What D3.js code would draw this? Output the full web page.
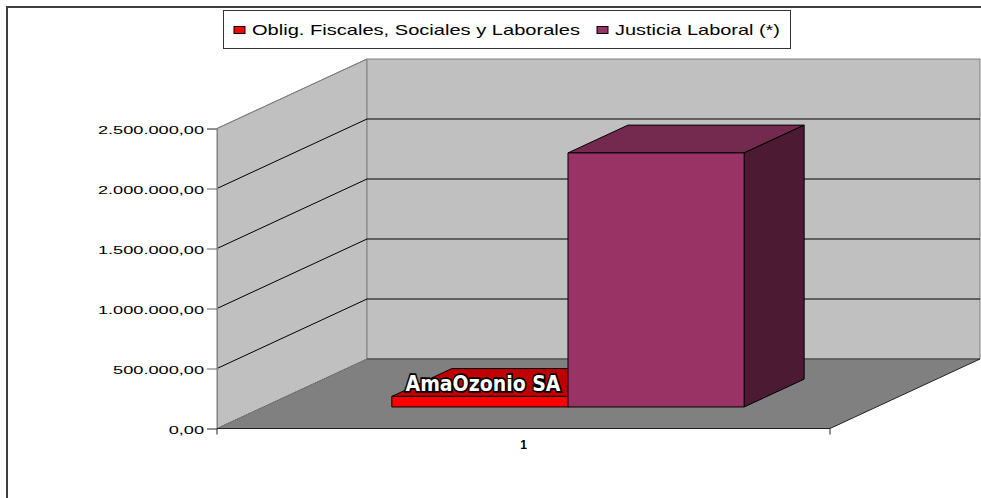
<!DOCTYPE html>
<html>
<head>
<meta charset="utf-8">
<script src="https://cdn.jsdelivr.net/npm/d3@7"></script>
<style>
	html, body { margin: 0; padding: 0; background: #fff; }
	svg { display: block; }
	text { font-family: "Liberation Sans", Arial, sans-serif; fill: #000; }
</style>
</head>
<body>
<svg id="chart" width="981" height="498"></svg>
<script>
var categories = ["1"];
var seriesNames = ["Oblig. Fiscales, Sociales y Laborales", "Justicia Laboral (*)"];
var seriesValues = [88000, 2117000];
var seriesColors = ["#ff0000", "#993366"];
var topColors = ["#c00000", "#74294f"];
var sideColors = ["#800000", "#4d1a33"];
var yTicks = [0, 500000, 1000000, 1500000, 2000000, 2500000];
var barLabel = "AmaOzonio SA";

var svg = d3.select("#chart");

// chart frame
svg.append("path")
	.attr("d", "M7,498V7H981")
	.attr("fill", "none")
	.attr("stroke", "#404040")
	.attr("stroke-width", 2);

var y = d3.scaleLinear().domain([0, 2500000]).range([428.5, 128.5]);
var x = d3.scaleBand().domain(categories).range([217, 830]);
var inner = d3.scaleBand().domain(d3.range(seriesValues.length))
	.range([x(categories[0]), x(categories[0]) + x.bandwidth()])
	.paddingOuter(0.74).paddingInner(0).align(0.4923);

// oblique projection, depth 0 is the front of the floor and 1 the back wall
var depthX = d3.scaleLinear().domain([0, 1]).range([0, 150]);
var depthY = d3.scaleLinear().domain([0, 1]).range([0, -69.5]);
var project = function(px, value, depth) {
	return [px + depthX(depth), y(value) + depthY(depth)];
};
var poly = function(points) {
	return "M" + points.join("L") + "Z";
};
var xMin = x.range()[0], xMax = x.range()[1], yMax = y.domain()[1];

// walls and floor
svg.append("path")
	.attr("d", poly([project(xMin, 0, 0), project(xMin, yMax, 0), project(xMin, yMax, 1), project(xMin, 0, 1)]))
	.attr("fill", "#c0c0c0").attr("stroke", "#808080");
svg.append("path")
	.attr("d", poly([project(xMin, 0, 1), project(xMin, yMax, 1), project(xMax, yMax, 1), project(xMax, 0, 1)]))
	.attr("fill", "#c0c0c0").attr("stroke", "#808080");
svg.append("path")
	.attr("d", poly([project(xMin, 0, 0), project(xMin, 0, 1), project(xMax, 0, 1), project(xMax, 0, 0)]))
	.attr("fill", "#808080").attr("stroke", "none");

// gridlines on both walls
var grid = svg.append("g").attr("fill", "none");
yTicks.forEach(function(tick) {
	if (tick > 0 && tick < yMax) {
		grid.append("path")
			.attr("d", "M" + [project(xMin, tick, 0), project(xMin, tick, 1), project(xMax, tick, 1)].join("L"))
			.attr("stroke", "#000").attr("stroke-width", 1);
	}
});
grid.append("path")
	.attr("d", "M" + [project(xMin, yMax, 0), project(xMin, yMax, 1)].join("L"))
	.attr("stroke", "#808080");
grid.append("path")
	.attr("d", "M" + [project(xMin, 0, 0), project(xMin, 0, 1)].join("L"))
	.attr("stroke", "#555").attr("stroke-dasharray", "1 1");
grid.append("path")
	.attr("d", "M" + [project(xMin, 0, 1), project(xMax, 0, 1)].join("L"))
	.attr("stroke", "#555").attr("stroke-width", 1.5);
grid.append("path")
	.attr("d", "M" + [project(xMax, 0, 0), project(xMax, 0, 1)].join("L"))
	.attr("stroke", "#222");

// axes
var yAxis = d3.axisLeft(y)
	.tickValues(yTicks)
	.tickSize(10)
	.tickPadding(3)
	.tickFormat(function(d) {
		return d3.format(",")(d).replace(/,/g, ".") + ",00";
	});
var yAxisG = svg.append("g").attr("transform", "translate(217,0)").call(yAxis);
yAxisG.select(".domain").attr("stroke", "#808080");
yAxisG.selectAll("line").attr("stroke", "#666");
// the reference labels are stretched wide, so keep the height and widen the glyphs
yAxisG.selectAll("text")
	.style("font-size", "11.5px")
	.attr("dy", "0.46em")
	.each(function() {
		d3.select(this)
			.attr("textLength", this.getComputedTextLength() * 1.58)
			.attr("lengthAdjust", "spacingAndGlyphs");
	});

var xAxis = d3.axisBottom(x).tickSize(0).tickPadding(12);
var xAxisG = svg.append("g").attr("transform", "translate(0,428.5)").call(xAxis);
xAxisG.select(".domain").remove();
xAxisG.selectAll("text").style("font-size", "12px").style("font-weight", "bold");
svg.append("path")
	.attr("d", "M" + xMin + ",428.5H" + xMax + "M" + xMin + ",428.5v6M" + xMax + ",428.5v6")
	.attr("fill", "none").attr("stroke", "#222");

// bars, drawn in series order so the later one overlaps
var barDepth = [0.31, 0.71];
var bars = svg.append("g").attr("stroke", "#000").attr("stroke-width", 1).attr("stroke-linejoin", "round");
seriesValues.forEach(function(value, i) {
	var x0 = inner(i), x1 = x0 + inner.bandwidth();
	var d0 = barDepth[0], d1 = barDepth[1];
	bars.append("path")
		.attr("d", poly([project(x0, value, d0), project(x0, value, d1), project(x1, value, d1), project(x1, value, d0)]))
		.attr("fill", topColors[i]);
	bars.append("path")
		.attr("d", poly([project(x1, 0, d0), project(x1, value, d0), project(x1, value, d1), project(x1, 0, d1)]))
		.attr("fill", sideColors[i]);
	bars.append("path")
		.attr("d", poly([project(x0, 0, d0), project(x0, value, d0), project(x1, value, d0), project(x1, 0, d0)]))
		.attr("fill", seriesColors[i]);
});

// label pasted over the short bar
svg.append("text")
	.attr("x", 483).attr("y", 391)
	.attr("text-anchor", "middle")
	.style("font-family", "'DejaVu Sans', sans-serif")
	.style("font-size", "22px")
	.style("font-weight", "bold")
	.style("fill", "#fff")
	.style("stroke", "#000")
	.style("stroke-width", "3.5px")
	.style("paint-order", "stroke")
	.attr("textLength", 155)
	.attr("lengthAdjust", "spacingAndGlyphs")
	.text(barLabel);

// legend
var legend = svg.append("g");
legend.append("rect")
	.attr("x", 223.5).attr("y", 10.5).attr("width", 567).attr("height", 38)
	.attr("fill", "#fff").attr("stroke", "#333");
seriesNames.forEach(function(name, i) {
	var px = i == 0 ? 234 : 597;
	legend.append("rect")
		.attr("x", px).attr("y", 26.5).attr("width", 11).attr("height", 7)
		.attr("fill", seriesColors[i]).attr("stroke", "#000");
	legend.append("text")
		.attr("x", px + 18).attr("y", 35)
		.style("font-size", "14.5px")
		.attr("textLength", i == 0 ? 328 : 165)
		.attr("lengthAdjust", "spacingAndGlyphs")
		.text(name);
});
</script>
</body>
</html>
